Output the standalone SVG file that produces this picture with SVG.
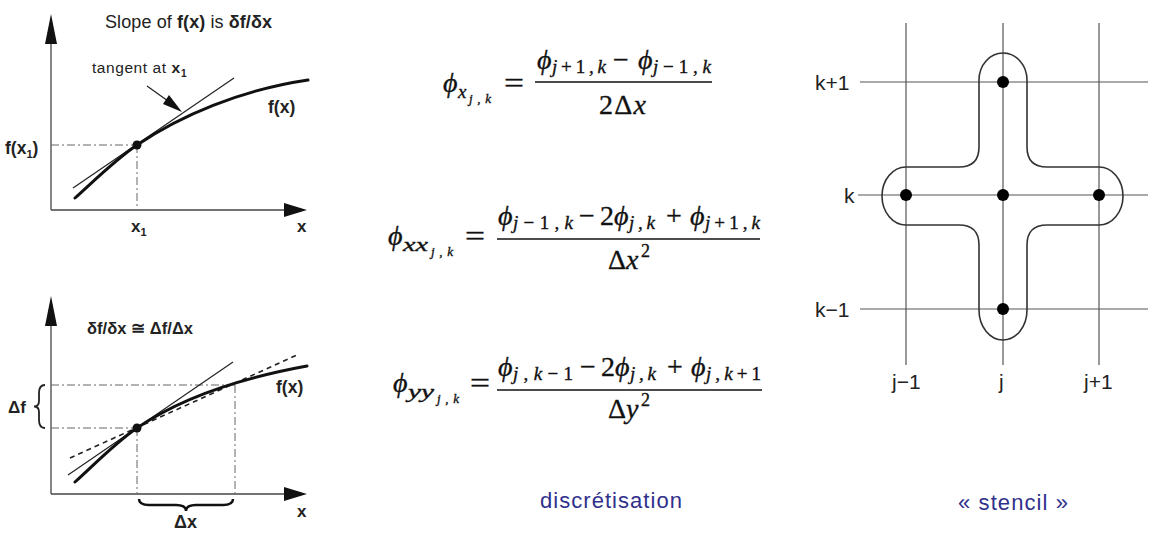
<svg xmlns="http://www.w3.org/2000/svg" width="1150" height="533" viewBox="0 0 1150 533">
<style>
.s{font-family:"Liberation Sans",Arial,sans-serif;fill:#222}
.b{font-weight:bold}
.m{font-family:"Liberation Serif","Times New Roman",serif;fill:#111;stroke:#111;stroke-width:0.35}
.i{font-style:italic}
.ax{stroke:#444;stroke-width:1.3;fill:none}
.dd{stroke:#666;stroke-width:1;fill:none;stroke-dasharray:8 3 2 3}
.cv{stroke:#111;stroke-width:3;fill:none;stroke-linecap:round}
.tg{stroke:#222;stroke-width:1.2;fill:none}
.ah{fill:#111}
.gr{stroke:#555;stroke-width:1.2;fill:none}
.fl{stroke:#111;stroke-width:1.5}
.blue{font-family:"Liberation Sans",Arial,sans-serif;fill:#30308c}
</style>
<rect width="1150" height="533" fill="#fff"/>

<g id="graph-top">
  <line class="ax" x1="51" y1="40" x2="51" y2="210"/>
  <line class="ax" x1="51" y1="210" x2="288" y2="210"/>
  <polygon class="ah" points="51,14 45,44 57,44"/>
  <polygon class="ah" points="307,210 284,203 284,217"/>
  <text class="s" x="105" y="28" font-size="18" textLength="167">Slope of <tspan class="b">f(x)</tspan> is <tspan class="b">δf/δx</tspan></text>
  <text class="s" x="92" y="73" font-size="15.5" textLength="88">tangent at <tspan class="b">x</tspan></text>
  <text class="s b" x="181" y="77" font-size="10">1</text>
  <line class="tg" x1="147" y1="86" x2="168" y2="101"/>
  <polygon class="ah" points="182,112 163,104 169,95"/>
  <line class="dd" x1="51" y1="145" x2="137" y2="145"/>
  <line class="dd" x1="137" y1="145" x2="137" y2="210"/>
  <line class="tg" x1="73" y1="188" x2="234" y2="78"/>
  <path class="cv" d="M75,198 C95,180 115,160 137,145 C180,116 240,90 308,80"/>
  <circle cx="137" cy="145" r="4.5" fill="#111"/>
  <text class="s b" x="268" y="113" font-size="17.5">f(x)</text>
  <text class="s b" x="5" y="154" font-size="17.5">f(x<tspan font-size="11" dy="4">1</tspan><tspan dy="-4">)</tspan></text>
  <text class="s b" x="131" y="232" font-size="17">x<tspan font-size="11" dy="4">1</tspan></text>
  <text class="s b" x="297" y="232" font-size="17">x</text>
</g>

<g id="graph-bottom">
  <line class="ax" x1="51" y1="320" x2="51" y2="494"/>
  <line class="ax" x1="51" y1="494" x2="288" y2="494"/>
  <polygon class="ah" points="51,296 45,326 57,326"/>
  <polygon class="ah" points="307,494 284,487 284,501"/>
  <text class="s b" x="87" y="334" font-size="16.5" textLength="106">δf/δx ≅ Δf/Δx</text>
  <line class="dd" x1="51" y1="428" x2="137" y2="428"/>
  <line class="dd" x1="51" y1="385" x2="235" y2="385"/>
  <line class="dd" x1="137" y1="428" x2="137" y2="494"/>
  <line class="dd" x1="235" y1="385" x2="235" y2="494"/>
  <line class="tg" x1="68" y1="475" x2="233" y2="362"/>
  <line x1="70" y1="458" x2="297" y2="355" stroke="#222" stroke-width="1.6" stroke-dasharray="5 4"/>
  <path class="cv" d="M75,482 C95,464 115,443 137,428 C175,402 230,380 307,366"/>
  <circle cx="137" cy="428" r="4.5" fill="#111"/>
  <text class="s b" x="276" y="393" font-size="17.5">f(x)</text>
  <text class="s b" x="8" y="413" font-size="17">Δf</text>
  <path d="M45,385 Q39,385 39,393 L39,401 Q39,406.5 34,406.5 Q39,406.5 39,412 L39,420 Q39,428 45,428" stroke="#222" stroke-width="1.8" fill="none"/>
  <path d="M139,499 Q139,505 149,505 L176,505 Q186,505 186,511 Q186,505 196,505 L223,505 Q233,505 233,499" stroke="#111" stroke-width="2.5" fill="none"/>
  <text class="s b" x="174" y="528" font-size="18">Δx</text>
  <text class="s b" x="297" y="517" font-size="17">x</text>
</g>

<g id="eq1">
  <text class="m i" x="443" y="92" font-size="28">ϕ</text>
  <text class="m i" x="458" y="98" font-size="19">x</text>
  <text class="m i" x="469" y="103" font-size="13" textLength="22">j,k</text>
  <text class="m" x="504" y="92" font-size="28" textLength="20" lengthAdjust="spacingAndGlyphs">=</text>
  <line class="fl" x1="535" y1="82" x2="712" y2="82"/>
  <text class="m i" x="537" y="69" font-size="28">ϕ</text>
  <text class="m" x="552" y="73" font-size="19" textLength="54"><tspan class="i">j</tspan>+1,<tspan class="i">k</tspan></text>
  <text class="m" x="613" y="69" font-size="28">−</text>
  <text class="m i" x="638" y="69" font-size="28">ϕ</text>
  <text class="m" x="653" y="73" font-size="19" textLength="58"><tspan class="i">j</tspan>−1,<tspan class="i">k</tspan></text>
  <text class="m" x="599" y="114" font-size="28" textLength="47">2Δ<tspan class="i">x</tspan></text>
</g>

<g id="eq2">
  <text class="m i" x="388" y="245" font-size="28">ϕ</text>
  <text class="m i" x="403" y="251" font-size="19" textLength="25" lengthAdjust="spacingAndGlyphs">xx</text>
  <text class="m i" x="431" y="256" font-size="13" textLength="22">j,k</text>
  <text class="m" x="465" y="245" font-size="28" textLength="20" lengthAdjust="spacingAndGlyphs">=</text>
  <line class="fl" x1="497" y1="239" x2="760" y2="239"/>
  <text class="m i" x="498" y="225" font-size="28">ϕ</text>
  <text class="m" x="513" y="229" font-size="19" textLength="60"><tspan class="i">j</tspan>−1,<tspan class="i">k</tspan></text>
  <text class="m" x="579" y="225" font-size="28">−</text>
  <text class="m" x="600" y="225" font-size="28">2<tspan class="i">ϕ</tspan></text>
  <text class="m i" x="629" y="229" font-size="19" textLength="26">j,k</text>
  <text class="m" x="666" y="225" font-size="28">+</text>
  <text class="m i" x="690" y="225" font-size="28">ϕ</text>
  <text class="m" x="705" y="229" font-size="19" textLength="55"><tspan class="i">j</tspan>+1,<tspan class="i">k</tspan></text>
  <text class="m" x="608" y="269" font-size="28">Δ<tspan class="i">x</tspan></text>
  <text class="m" x="641" y="257" font-size="18">2</text>
</g>

<g id="eq3">
  <text class="m i" x="393" y="392" font-size="28">ϕ</text>
  <text class="m i" x="408" y="398" font-size="19" textLength="26" lengthAdjust="spacingAndGlyphs">yy</text>
  <text class="m i" x="437" y="403" font-size="13" textLength="22">j,k</text>
  <text class="m" x="470" y="392" font-size="28" textLength="20" lengthAdjust="spacingAndGlyphs">=</text>
  <line class="fl" x1="497" y1="390" x2="762" y2="390"/>
  <text class="m i" x="498" y="376" font-size="28">ϕ</text>
  <text class="m" x="513" y="380" font-size="19" textLength="60"><tspan class="i">j</tspan>,<tspan class="i">k</tspan>−1</text>
  <text class="m" x="580" y="376" font-size="28">−</text>
  <text class="m" x="601" y="376" font-size="28">2<tspan class="i">ϕ</tspan></text>
  <text class="m i" x="630" y="380" font-size="19" textLength="26">j,k</text>
  <text class="m" x="667" y="376" font-size="28">+</text>
  <text class="m i" x="691" y="376" font-size="28">ϕ</text>
  <text class="m" x="706" y="380" font-size="19" textLength="55"><tspan class="i">j</tspan>,<tspan class="i">k</tspan>+1</text>
  <text class="m" x="608" y="418" font-size="28">Δ<tspan class="i">y</tspan></text>
  <text class="m" x="641" y="406" font-size="18">2</text>
</g>

<g id="stencil">
  <line class="gr" x1="906" y1="23" x2="906" y2="365"/>
  <line class="gr" x1="1003" y1="23" x2="1003" y2="365"/>
  <line class="gr" x1="1099" y1="23" x2="1099" y2="365"/>
  <line class="gr" x1="860" y1="82" x2="1148" y2="82"/>
  <line class="gr" x1="858" y1="195" x2="1148" y2="195"/>
  <line class="gr" x1="860" y1="309" x2="1148" y2="309"/>
  <path d="M979,80 A24,27 0 0 1 1027,80 L1027,147 Q1027,167 1047,167 L1099,167 A24,29 0 0 1 1099,225 L1047,225 Q1027,225 1027,245 L1027,310 A24,30 0 0 1 979,310 L979,245 Q979,225 959,225 L906,225 A24,29 0 0 1 906,167 L959,167 Q979,167 979,147 Z" stroke="#333" stroke-width="1.6" fill="none"/>
  <circle cx="1003" cy="82" r="6" fill="#000"/>
  <circle cx="906" cy="195" r="6" fill="#000"/>
  <circle cx="1003" cy="195" r="6" fill="#000"/>
  <circle cx="1099" cy="195" r="6" fill="#000"/>
  <circle cx="1003" cy="309" r="6" fill="#000"/>
  <text class="s" x="815" y="90" font-size="21">k+1</text>
  <text class="s" x="844" y="203" font-size="21">k</text>
  <text class="s" x="815" y="317" font-size="21">k−1</text>
  <text class="s" x="892" y="389" font-size="21">j−1</text>
  <text class="s" x="999" y="389" font-size="21">j</text>
  <text class="s" x="1084" y="389" font-size="21">j+1</text>
</g>

<g id="captions">
  <text class="blue" x="540" y="508" font-size="22" textLength="142">discrétisation</text>
  <text class="blue" x="958" y="510" font-size="22" textLength="110">« stencil »</text>
</g>
</svg>
